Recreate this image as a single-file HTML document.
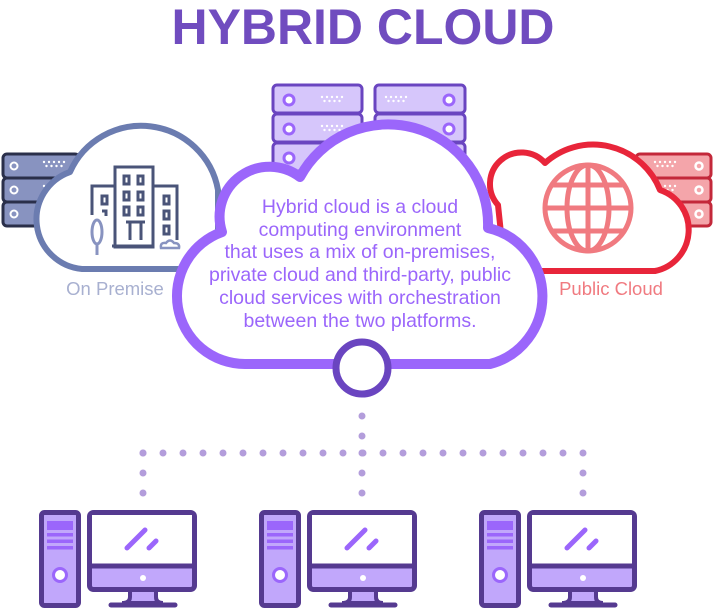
<!DOCTYPE html>
<html><head><meta charset="utf-8"><style>
html,body{margin:0;padding:0;background:#fff;}
svg{display:block;font-family:"Liberation Sans",sans-serif;}
</style></head><body>
<svg width="714" height="610" viewBox="0 0 714 610" xmlns="http://www.w3.org/2000/svg">
<defs>
<g id="dots"><g fill="#fff"><circle cx="0" cy="0" r="1.2"/><circle cx="5" cy="0" r="1.2"/><circle cx="10" cy="0" r="1.2"/><circle cx="15" cy="0" r="1.2"/><circle cx="20" cy="0" r="1.2"/><circle cx="2.5" cy="4" r="1.2"/><circle cx="7.5" cy="4" r="1.2"/><circle cx="12.5" cy="4" r="1.2"/><circle cx="17.5" cy="4" r="1.2"/></g></g>
<g id="pc">
 <rect x="41.5" y="512.5" width="37" height="93" rx="3" fill="#c1a7fb" stroke="#553a90" stroke-width="5"/>
 <rect x="47" y="521" width="26" height="9" fill="#9b66fb"/>
 <rect x="47" y="533" width="26" height="3.5" fill="#9b66fb"/>
 <rect x="47" y="539.5" width="26" height="3.5" fill="#9b66fb"/>
 <rect x="47" y="546" width="26" height="3.5" fill="#9b66fb"/>
 <circle cx="60" cy="575" r="6.5" fill="#fff" stroke="#9b66fb" stroke-width="3"/>
 <path d="M130 590 V597 Q130 603 122 603 H163 Q156 603 156 597 V590 Z" fill="#c1a7fb" stroke="#553a90" stroke-width="4"/>
 <line x1="111" y1="605" x2="175" y2="605" stroke="#553a90" stroke-width="5" stroke-linecap="round"/>
 <rect x="89.5" y="512.5" width="105" height="77" rx="4" fill="#c1a7fb" stroke="#553a90" stroke-width="5"/>
 <rect x="92" y="515" width="100" height="50" fill="#fff"/>
 <line x1="90" y1="566" x2="194" y2="566" stroke="#553a90" stroke-width="5"/>
 <circle cx="143" cy="578" r="3" fill="#fff"/>
 <line x1="127" y1="548" x2="145" y2="530" stroke="#9b66fb" stroke-width="5" stroke-linecap="round"/>
 <line x1="149" y1="548" x2="156" y2="541" stroke="#9b66fb" stroke-width="5" stroke-linecap="round"/>
</g>
</defs>

<text x="363" y="44" text-anchor="middle" font-size="50" font-weight="bold" fill="#704cbf" textLength="383" lengthAdjust="spacingAndGlyphs">HYBRID CLOUD</text>

<!-- left server -->
<g fill="#8893c0" stroke="#2a2f4a" stroke-width="3">
 <rect x="3" y="154" width="76" height="24" rx="4"/><rect x="3" y="178" width="76" height="24" rx="4"/><rect x="3" y="202" width="76" height="24" rx="4"/>
</g>
<g fill="none" stroke="#fff" stroke-width="2"><circle cx="14" cy="166" r="3.5"/><circle cx="14" cy="190" r="3.5"/><circle cx="14" cy="214" r="3.5"/></g>
<use href="#dots" x="44" y="162"/><use href="#dots" x="44" y="186"/>

<!-- right server -->
<g fill="#f4a5aa" stroke="#c3283a" stroke-width="3">
 <rect x="636" y="154" width="75" height="24" rx="4"/><rect x="636" y="178" width="75" height="24" rx="4"/><rect x="636" y="202" width="75" height="24" rx="4"/>
</g>
<g fill="none" stroke="#fff" stroke-width="2.5"><circle cx="699" cy="166" r="3.5"/><circle cx="699" cy="190" r="3.5"/><circle cx="699" cy="214" r="3.5"/></g>
<use href="#dots" x="655" y="162"/><use href="#dots" x="655" y="186"/>

<!-- left cloud -->
<path d="M82 269 A50 50 0 0 1 70 172 A78 78 0 0 1 218 190 L218 269 Z" fill="#fff" stroke="#6b7cb0" stroke-width="6" stroke-linejoin="round"/>
<!-- building -->
<g fill="none" stroke="#4a5478" stroke-width="3">
 <rect x="115" y="167" width="38" height="80"/>
 <path d="M115 186 H92 V215 M153 186 H177 V240"/>
 <path d="M126 222 H145 M130 222 V240 M141 222 V240 M112 246 H153"/>
 <rect x="124" y="176" width="5" height="8"/><rect x="138" y="176" width="5" height="8"/>
 <rect x="124" y="192" width="5" height="8"/><rect x="138" y="192" width="5" height="8"/>
 <rect x="124" y="207" width="5" height="8"/><rect x="138" y="207" width="5" height="8"/>
 <rect x="102" y="196" width="5" height="8"/><rect x="164" y="196" width="5" height="8"/>
 <rect x="164" y="211" width="5" height="8"/><rect x="164" y="226" width="5" height="8"/>
 <path d="M102 211 H106 V216"/>
</g>
<ellipse cx="97" cy="232" rx="5" ry="12" fill="none" stroke="#8893c0" stroke-width="3"/>
<line x1="97" y1="244" x2="97" y2="255" stroke="#8893c0" stroke-width="3"/>
<path d="M161 248 Q160 242 166 243 Q170 238 174 243 Q180 243 179 248 Z" fill="none" stroke="#8893c0" stroke-width="2.5"/>
<text x="115" y="295" text-anchor="middle" font-size="18.5" fill="#a8b0d0">On Premise</text>

<!-- right cloud -->
<path d="M505 271 L498 205 A24 24 0 0 1 545 163 A72 72 0 0 1 660 190 A42 42 0 0 1 655 271 Z" fill="#fff" stroke="#e8253a" stroke-width="6" stroke-linejoin="round"/>
<g fill="none" stroke="#f07a80" stroke-width="5">
 <circle cx="588" cy="208" r="43"/>
 <ellipse cx="588" cy="208" rx="21" ry="43"/>
 <line x1="588" y1="165" x2="588" y2="251"/>
 <line x1="545" y1="208" x2="631" y2="208"/>
 <line x1="552" y1="185" x2="624" y2="185"/>
 <line x1="552" y1="231" x2="624" y2="231"/>
</g>
<text x="611" y="295" text-anchor="middle" font-size="18.5" fill="#f07a80">Public Cloud</text>

<!-- top servers -->
<g fill="#d6c6fb" stroke="#6a45c0" stroke-width="3">
 <rect x="273" y="85" width="89" height="28" rx="4"/><rect x="273" y="114" width="89" height="28" rx="4"/><rect x="273" y="143" width="89" height="28" rx="4"/>
 <rect x="375" y="85" width="90" height="28" rx="4"/><rect x="375" y="114" width="90" height="28" rx="4"/><rect x="375" y="143" width="90" height="28" rx="4"/>
</g>
<g fill="#fff" stroke="#9b66fb" stroke-width="3"><circle cx="289" cy="100" r="5"/><circle cx="289" cy="129" r="5"/><circle cx="289" cy="158" r="5"/><circle cx="449" cy="100" r="5"/><circle cx="449" cy="129" r="5"/></g>
<use href="#dots" x="322" y="97"/><use href="#dots" x="322" y="126"/><use href="#dots" x="386" y="97"/>

<!-- center cloud -->
<path d="M245 364 A68 68 0 0 1 222 232 A50 50 0 0 1 300 177 A100 100 0 0 1 488 228 A70 70 0 0 1 490 364 Z" fill="#fff" stroke="#9b66fb" stroke-width="10" stroke-linejoin="round"/>
<g font-size="19.5" fill="#9b66fb" text-anchor="middle">
 <text x="360" y="213">Hybrid cloud is a cloud</text>
 <text x="360" y="236">computing environment</text>
 <text x="360" y="258">that uses a mix of on-premises,</text>
 <text x="360" y="281">private cloud and third-party, public</text>
 <text x="360" y="304">cloud services with orchestration</text>
 <text x="360" y="327">between the two platforms.</text>
</g>
<circle cx="362" cy="368" r="26" fill="#fff" stroke="#6a45c0" stroke-width="7"/>

<!-- dotted connectors -->
<g stroke="#b39ddb" stroke-width="7" stroke-linecap="round" fill="none" stroke-dasharray="0 20">
 <path d="M362 416 V453"/>
 <path d="M143 453 H583"/>
 <path d="M143 453 V510"/>
 <path d="M362 453 V510"/>
 <path d="M583 453 V510"/>
</g>

<use href="#pc"/>
<use href="#pc" x="220"/>
<use href="#pc" x="440"/>
</svg>
</body></html>
